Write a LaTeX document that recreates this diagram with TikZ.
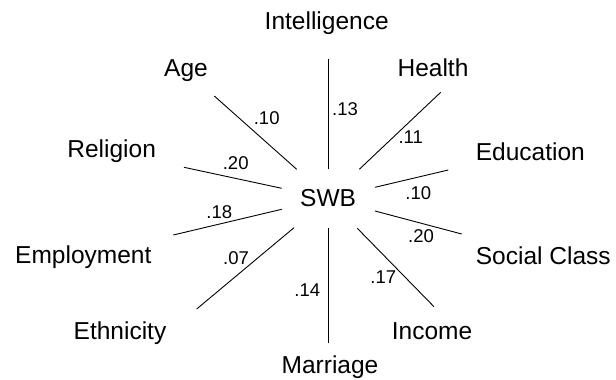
\documentclass[tikz,border=0pt]{standalone}
\usepackage{fontspec}
\setmainfont{Liberation Sans}
\begin{document}
\begin{tikzpicture}[x=1pt,y=-1pt,
  lbl/.style={inner sep=0pt,anchor=base,font=\fontsize{24.5}{29}\selectfont},
  lbll/.style={lbl,anchor=base west},
  coef/.style={inner sep=0pt,anchor=center,font=\fontsize{18.5}{22}\selectfont},
  link/.style={draw=black,line width=0.9pt}]
\useasboundingbox[fill=white] (0,0) rectangle (616,380);
% labels
\node[lbl] (intel) at (326.7,29.3) {Intelligence};
\node[lbl] (age) at (186,76) {Age};
\node[lbl] (health) at (433,76) {Health};
\node[lbl] (relig) at (111.7,157.3) {Religion};
\node[lbll] (educ) at (475.7,160) {Education};
\node[lbll] (swb) at (300,206.7) {SWB};
\node[lbll] (employ) at (15,263.3) {Employment};
\node[lbll] (social) at (475.7,264.3) {Social Class};
\node[lbl] (ethn) at (120,339) {Ethnicity};
\node[lbl] (income) at (432,339) {Income};
\node[lbl] (marr) at (330,373.3) {Marriage};
% line ends
\coordinate (i1) at (328.7,59);   \coordinate (i2) at (328.7,169.3);
\coordinate (m1) at (328.7,228.3); \coordinate (m2) at (328.7,342.7);
\coordinate (a1) at (214.3,96);   \coordinate (a2) at (296.7,169.3);
\coordinate (r1) at (184,167.3);  \coordinate (r2) at (281.7,188.3);
\coordinate (h1) at (440.7,92.3); \coordinate (h2) at (359.3,169.3);
\coordinate (e1) at (448.3,170);  \coordinate (e2) at (375,187.3);
\coordinate (p1) at (173.3,235);  \coordinate (p2) at (281.7,209.3);
\coordinate (s1) at (375,211);    \coordinate (s2) at (461.7,234);
\coordinate (t1) at (196.7,309);  \coordinate (t2) at (294,227.7);
\coordinate (n1) at (357.3,228.3); \coordinate (n2) at (434,306.7);
\draw[link] (i1) -- (i2);
\draw[link] (m1) -- (m2);
\draw[link] (a1) -- (a2);
\draw[link] (r1) -- (r2);
\draw[link] (h1) -- (h2);
\draw[link] (e1) -- (e2);
\draw[link] (p1) -- (p2);
\draw[link] (s1) -- (s2);
\draw[link] (t1) -- (t2);
\draw[link] (n1) -- (n2);
% coefficients
\node[coef] (cage) at (266.7,118.3) {.10};
\node[coef] (cint) at (345,109.3) {.13};
\node[coef] (chea) at (410.7,136.7) {.11};
\node[coef] (crel) at (235.7,163.3) {.20};
\node[coef] (cedu) at (418.3,193.3) {.10};
\node[coef] (cemp) at (219.3,211.7) {.18};
\node[coef] (csoc) at (421,235.7) {.20};
\node[coef] (ceth) at (236,258.3) {.07};
\node[coef] (cmar) at (307.3,290) {.14};
\node[coef] (cinc) at (383.3,276.7) {.17};
\end{tikzpicture}
\end{document}
